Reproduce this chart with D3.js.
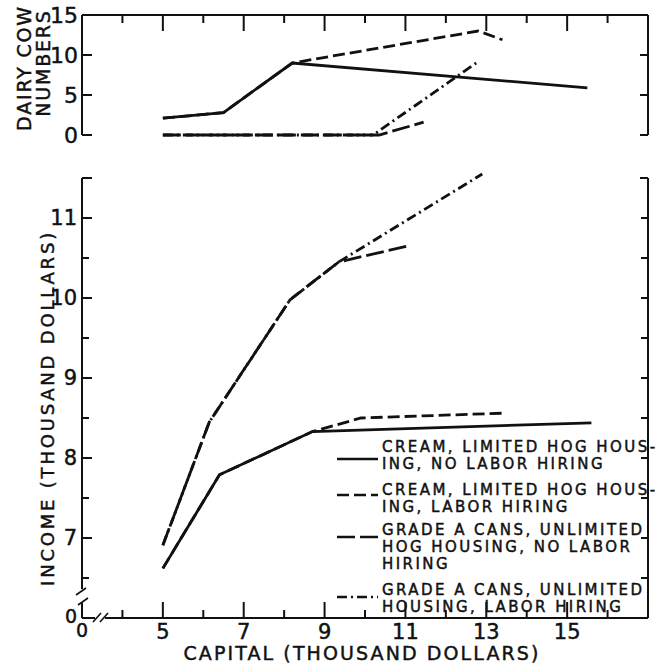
<!DOCTYPE html>
<html>
<head>
<meta charset="utf-8">
<script src="https://cdn.jsdelivr.net/npm/d3@7"></script>
<style>
  body { margin: 0; background: #fff; }
  svg text { font-family: "DejaVu Sans", sans-serif; fill: #111; stroke: #111; stroke-width: 0.45px; }
</style>
</head>
<body>
<div id="chart"></div>
<script>
// capital (thousand dollars) ticks
var capMajor = [5, 7, 9, 11, 13, 15];
var capMinor = [4, 6, 8, 10, 12, 14, 16];
var cowTicks = [5, 10];
var cowLabels = [0, 5, 10, 15];
var incomeMajor = [7, 8, 9, 10, 11];
var incomeMinor = [6.5, 7.5, 8.5, 9.5, 10.5];

// dairy cow numbers, [capital, cows]
var cowsCreamNoHire = [[5, 2.1], [6.5, 2.8], [8.2, 9.0], [15.5, 5.9]];
var cowsCreamHire = [[5, 2.1], [6.5, 2.8], [8.2, 9.0], [12.8, 13.0], [13.4, 11.9]];
var cowsGradeANoHire = [[5, 0], [10.35, 0], [11.45, 1.6]];
var cowsGradeAHire = [[5, 0], [10.2, 0], [12.75, 9.0]];

// income (thousand dollars), [capital, income]
var incCreamNoHire = [[5, 6.62], [6.4, 7.79], [8.7, 8.33], [15.6, 8.44]];
var incCreamHire = [[5, 6.62], [6.4, 7.79], [8.7, 8.33], [9.9, 8.5], [13.4, 8.56]];
var incGradeANoHire = [[5, 6.91], [6.15, 8.45], [8.15, 9.98], [9.35, 10.45], [11.05, 10.65]];
var incGradeAHire = [[5, 6.91], [6.15, 8.45], [8.15, 9.98], [9.35, 10.45], [12.9, 11.55]];

var legendText = [
  ["CREAM, LIMITED HOG HOUS-", "ING, NO LABOR HIRING"],
  ["CREAM, LIMITED HOG HOUS-", "ING, LABOR HIRING"],
  ["GRADE A CANS, UNLIMITED", "HOG HOUSING, NO LABOR", "HIRING"],
  ["GRADE A CANS, UNLIMITED", "HOUSING, LABOR HIRING"]
];
var dashes = [null, "12,5", "18,5", "10,4,2,4"];

var width = 658, height = 663;
var svg = d3.select("#chart").append("svg")
    .attr("width", width)
    .attr("height", height);

var x = d3.scaleLinear().domain([3, 17]).range([82, 648]);
var yTop = d3.scaleLinear().domain([0, 15]).range([135, 15]);
var yBot = d3.scaleLinear().domain([6, 11.5]).range([618, 178]);

var axes = svg.append("g")
    .attr("stroke", "#111")
    .attr("stroke-width", 2)
    .attr("fill", "none");

function seg(x1, y1, x2, y2, w) {
    axes.append("line")
        .attr("x1", x1).attr("y1", y1)
        .attr("x2", x2).attr("y2", y2)
        .attr("stroke-width", w || 2);
}

// ---- top panel frame
var L = x(3), R = x(17);
seg(L, yTop(15), R, yTop(15));
seg(L, yTop(15), L, yTop(0));
seg(R, yTop(15), R, yTop(0));
seg(L, yTop(0), L + 10, yTop(0));
seg(R, yTop(0), R - 8, yTop(0));
cowTicks.forEach(function(d){
    seg(L, yTop(d), L + 10, yTop(d));
    seg(R, yTop(d), R - 8, yTop(d));
});
capMajor.forEach(function(d){ seg(x(d), yTop(15), x(d), yTop(15) + 16); });
capMinor.forEach(function(d){ seg(x(d), yTop(15), x(d), yTop(15) + 8); });

// ---- bottom panel frame
seg(L, yBot(11.5), L + 10, yBot(11.5));
seg(L, yBot(11.5), L, 589);
seg(R, yBot(11.5), R - 8, yBot(11.5));
seg(R, yBot(11.5), R, yBot(6));
seg(105, yBot(6), R, yBot(6));
// axis breaks
seg(L, 603, L, yBot(6));
seg(L, yBot(6), 95, yBot(6));
seg(86, 588, 76, 595, 1.6);
seg(88, 598, 78, 605, 1.6);
seg(93, 622, 101, 613, 1.6);
seg(100, 622, 108, 613, 1.6);

incomeMajor.forEach(function(d){
    seg(L, yBot(d), L + 10, yBot(d));
    seg(R, yBot(d), R - 7, yBot(d));
});
incomeMinor.forEach(function(d){
    seg(L, yBot(d), L + 7, yBot(d));
    seg(R, yBot(d), R - 7, yBot(d));
});
capMajor.forEach(function(d){ seg(x(d), yBot(6), x(d), yBot(6) - 16); });
capMinor.forEach(function(d){ seg(x(d), yBot(6), x(d), yBot(6) - 8); });

// ---- tick labels
svg.append("g").selectAll("text")
    .data(cowLabels)
    .enter().append("text")
    .attr("x", 78)
    .attr("y", function(d){ return yTop(d) + 8; })
    .attr("text-anchor", "end")
    .attr("font-size", 22)
    .text(function(d){ return d; });

svg.append("g").selectAll("text")
    .data(incomeMajor)
    .enter().append("text")
    .attr("x", 77)
    .attr("y", function(d){ return yBot(d) + 7; })
    .attr("text-anchor", "end")
    .attr("font-size", 21)
    .text(function(d){ return d; });

svg.append("text").attr("x", 77).attr("y", 623)
    .attr("text-anchor", "end").attr("font-size", 19).text("0");

svg.append("g").selectAll("text")
    .data(capMajor)
    .enter().append("text")
    .attr("x", function(d){ return x(d); })
    .attr("y", 639)
    .attr("text-anchor", "middle")
    .attr("font-size", 21)
    .text(function(d){ return d; });

svg.append("text").attr("x", 82).attr("y", 637)
    .attr("text-anchor", "middle").attr("font-size", 19).text("0");

// ---- axis titles
svg.append("text")
    .attr("x", 362).attr("y", 660)
    .attr("text-anchor", "middle")
    .attr("font-size", 19)
    .attr("letter-spacing", 2.1)
    .text("CAPITAL (THOUSAND DOLLARS)");

svg.append("text")
    .attr("transform", "translate(54,408) rotate(-90)")
    .attr("text-anchor", "middle")
    .attr("font-size", 18)
    .attr("letter-spacing", 2.8)
    .text("INCOME (THOUSAND DOLLARS)");

svg.append("text")
    .attr("transform", "translate(31,68) rotate(-90)")
    .attr("text-anchor", "middle")
    .attr("font-size", 19)
    .attr("letter-spacing", 1.8)
    .text("DAIRY COW");
svg.append("text")
    .attr("transform", "translate(50,63) rotate(-90)")
    .attr("text-anchor", "middle")
    .attr("font-size", 19)
    .attr("letter-spacing", 1.8)
    .text("NUMBERS");

// ---- series
var lineTop = d3.line().x(function(d){ return x(d[0]); }).y(function(d){ return yTop(d[1]); });
var lineBot = d3.line().x(function(d){ return x(d[0]); }).y(function(d){ return yBot(d[1]); });

var topSeries = [cowsCreamNoHire, cowsCreamHire, cowsGradeANoHire, cowsGradeAHire];
var botSeries = [incCreamNoHire, incCreamHire, incGradeANoHire, incGradeAHire];

svg.append("g").selectAll("path")
    .data(topSeries)
    .enter().append("path")
    .attr("d", lineTop)
    .attr("fill", "none")
    .attr("stroke", "#111")
    .attr("stroke-width", 2.8)
    .attr("stroke-dasharray", function(d, i){ return dashes[i]; });

svg.append("g").selectAll("path")
    .data(botSeries)
    .enter().append("path")
    .attr("d", lineBot)
    .attr("fill", "none")
    .attr("stroke", "#111")
    .attr("stroke-width", 2.8)
    .attr("stroke-dasharray", function(d, i){ return dashes[i]; });

// ---- legend
var legendTop = [452, 495, 535, 595];
var legendSample = [459, 495, 537, 597];
var leg = svg.append("g");
legendText.forEach(function(lines, i){
    leg.append("line")
        .attr("x1", 337).attr("x2", 378)
        .attr("y1", legendSample[i]).attr("y2", legendSample[i])
        .attr("stroke", "#111")
        .attr("stroke-width", 2.4)
        .attr("stroke-dasharray", dashes[i]);
    lines.forEach(function(t, j){
        leg.append("text")
            .attr("x", 382)
            .attr("y", legendTop[i] + j * 17)
            .attr("font-size", 15)
            .attr("letter-spacing", 2.45)
            .text(t);
    });
});
</script>
</body>
</html>
